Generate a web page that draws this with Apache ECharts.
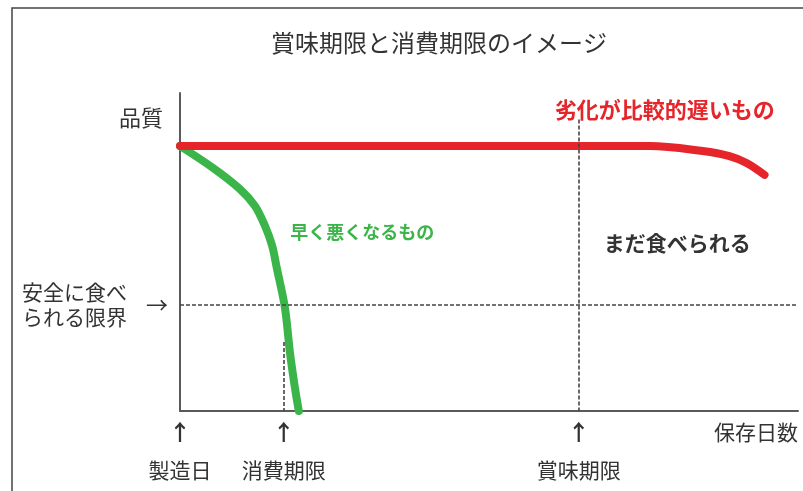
<!DOCTYPE html>
<html lang="ja">
<head>
<meta charset="utf-8">
<title>賞味期限と消費期限のイメージ</title>
<script src="https://cdn.jsdelivr.net/npm/echarts@6/dist/echarts.min.js"></script>
<style>
  html, body { margin: 0; padding: 0; background: #fff; }
  #chart { width: 803px; height: 491px; }
</style>
</head>
<body>
<div id="chart"></div>
<script>
// Storage days (x) — marked points on the time axis
const milestoneDays = [0, 26, 100];
const milestoneNames = ['製造日', '消費期限', '賞味期限'];

// Food that deteriorates slowly (red curve)
const slowDays    = [0, 117.8, 131.1, 137.8, 142.1, 146.6];
const slowQuality = [100, 100, 98.1, 96.2, 93.6, 89.1];

// Food that goes bad quickly (green curve)
const fastDays    = [0, 8.3, 15.0, 18.8, 21.3, 23.1, 24.3, 26.3, 27.6, 28.8, 29.8];
const fastQuality = [100, 91.7, 83.8, 77.4, 69.9, 62.4, 53.8, 39.1, 21.8, 9.0, 0];

// Quality level below which food is no longer safe to eat
const safeLimit = 40;
const safeLimitLabel = '安全に食べ\nられる限界';

const FONT = '"Noto Sans CJK JP", "Noto Sans", sans-serif';
const RED = '#e5252a';
const GREEN = '#3bb54a';
const INK = '#333333';
const AXIS = '#5a5a5a';

const toPairs = (xs, ys) => xs.map((x, i) => [x, ys[i]]);

const chart = echarts.init(document.getElementById('chart'), null, { renderer: 'canvas' });

chart.setOption({
  animation: false,
  backgroundColor: '#ffffff',
  textStyle: { fontFamily: FONT },
  title: {
    text: '賞味期限と消費期限のイメージ',
    left: 434,
    top: 26,
    textAlign: 'center',
    textStyle: { fontFamily: FONT, fontSize: 24, fontWeight: 'normal', color: INK }
  },
  graphic: [{
    type: 'rect',
    silent: true,
    z: -1,
    shape: { x: 12, y: 8, width: 900, height: 600 },
    style: { fill: 'none', stroke: '#444', lineWidth: 1.5 }
  }],
  grid: { left: 180, right: 5, top: 93, bottom: 80, outerBoundsMode: 'none' },
  xAxis: {
    type: 'value',
    min: 0,
    max: 155,
    name: '保存日数',
    nameLocation: 'end',
    nameGap: 0,
    nameTextStyle: {
      fontFamily: FONT, fontSize: 21, color: INK,
      align: 'right', verticalAlign: 'top', padding: [11, 0, 0, 0]
    },
    axisLine: { show: true, lineStyle: { color: AXIS, width: 2 } },
    axisTick: { show: false },
    splitLine: { show: false },
    axisLabel: {
      customValues: milestoneDays,
      margin: 1,
      hideOverlap: false,
      formatter: (v) => {
        const i = milestoneDays.indexOf(v);
        return '{a|↑}\n{l|' + (i >= 0 ? milestoneNames[i] : '') + '}';
      },
      rich: {
        a: { fontFamily: FONT, fontSize: 22, fontWeight: 'bold', color: INK, lineHeight: 40 },
        l: { fontFamily: FONT, fontSize: 21, color: INK, lineHeight: 36 }
      }
    }
  },
  yAxis: {
    type: 'value',
    min: 0,
    max: 120,
    name: '品質',
    nameLocation: 'end',
    nameGap: -25,
    nameTextStyle: {
      fontFamily: FONT, fontSize: 22, color: INK,
      align: 'right', verticalAlign: 'middle', padding: [0, 17, 0, 0]
    },
    axisLine: { show: true, lineStyle: { color: AXIS, width: 2 } },
    axisTick: { show: false },
    splitLine: { show: false },
    axisLabel: {
      customValues: [safeLimit],
      margin: 53,
      formatter: () => safeLimitLabel,
      fontFamily: FONT,
      fontSize: 21,
      lineHeight: 25,
      color: INK,
      align: 'right',
      padding: [9, 0, 0, 0]
    }
  },
  series: [
    {
      name: '早く悪くなるもの',
      type: 'line',
      data: toPairs(fastDays, fastQuality),
      smooth: 0.35,
      showSymbol: false,
      lineStyle: { color: GREEN, width: 8, cap: 'round', join: 'round' },
      z: 3,
      markPoint: {
        symbol: 'circle',
        symbolSize: 0,
        data: [{
          coord: [45.7, 67.3],
          label: {
            show: true, position: 'inside',
            formatter: '早く悪くなるもの',
            fontFamily: FONT, fontSize: 18, fontWeight: 'bold', color: GREEN
          }
        }, {
          coord: [124.7, 63.5],
          label: {
            show: true, position: 'inside',
            formatter: 'まだ食べられる',
            fontFamily: FONT, fontSize: 21, fontWeight: 'bold', color: INK
          }
        }]
      },
      markLine: {
        silent: true,
        symbol: ['none', 'none'],
        lineStyle: { color: '#444', width: 1.6, type: [4, 2] },
        label: { show: false },
        data: [
          [{ coord: [100, 110] }, { coord: [100, 0] }],
          [{ coord: [26, 26] }, { coord: [26, 0] }],
          {
            yAxis: safeLimit,
            label: {
              show: true, position: 'start', distance: 12,
              formatter: '→',
              fontFamily: FONT, fontSize: 22, color: INK,
              padding: [6, 0, 0, 0]
            }
          }
        ]
      }
    },
    {
      name: '劣化が比較的遅いもの',
      type: 'line',
      data: toPairs(slowDays, slowQuality),
      smooth: 0.35,
      showSymbol: false,
      lineStyle: { color: RED, width: 8, cap: 'round', join: 'round' },
      z: 4,
      markPoint: {
        symbol: 'circle',
        symbolSize: 0,
        data: [{
          coord: [121.6, 113.9],
          label: {
            show: true, position: 'inside',
            formatter: '劣化が比較的遅いもの',
            fontFamily: FONT, fontSize: 22, fontWeight: 'bold', color: RED
          }
        }]
      }
    }
  ]
});
</script>
</body>
</html>
